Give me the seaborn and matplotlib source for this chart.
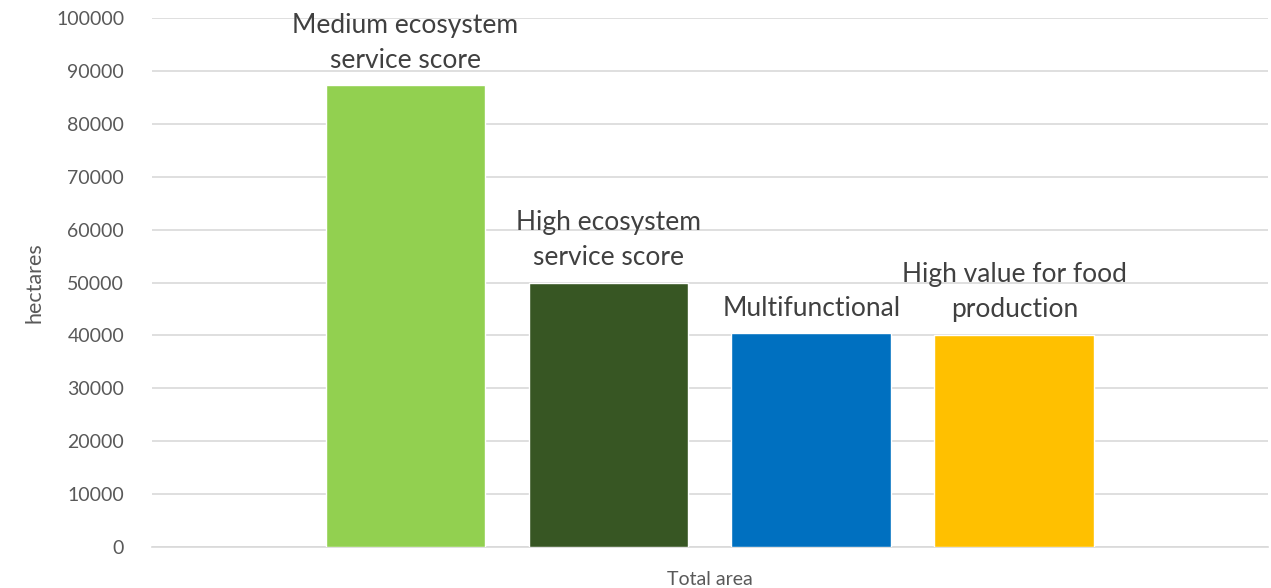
import matplotlib
matplotlib.use("Agg")
import matplotlib.pyplot as plt
import seaborn as sns
import pandas as pd

# Land classes and their total area (hectares)
categories = ["Total area"]
classes = [
    "Medium ecosystem\nservice score",
    "High ecosystem\nservice score",
    "Multifunctional",
    "High value for food\nproduction",
]
hectares = [87300, 50000, 40400, 40100]
colors = ["#92D050", "#375623", "#0070C0", "#FFC000"]
y_ticks = list(range(0, 100001, 10000))

df = pd.DataFrame({
    "group": categories * len(classes),
    "cls": classes,
    "hectares": hectares,
})

sns.set_theme(style="white")
plt.rcParams["font.family"] = ["Lato", "DejaVu Sans"]

fig = plt.figure(figsize=(12.71, 5.88), dpi=100)
ax = fig.add_axes([0.1196, 0.0697, 0.878, 0.8997])

sns.barplot(
    data=df, x="group", y="hectares", hue="cls", hue_order=classes,
    palette=colors, width=0.7276, gap=0.212, saturation=1,
    legend=False, ax=ax, zorder=3,
)

ax.set_ylim(0, 100000)
ax.set_xlim(-0.5, 0.5)
ax.set_yticks(y_ticks)
ax.set_yticklabels([str(t) for t in y_ticks])
ax.yaxis.grid(True, color="#D9D9D9", linewidth=1.2, zorder=0)
ax.set_axisbelow(True)
for side in ["top", "right", "left"]:
    ax.spines[side].set_visible(False)
ax.spines["bottom"].set_color("#D9D9D9")
ax.spines["bottom"].set_linewidth(1.2)

ax.tick_params(axis="y", length=0, pad=20, labelsize=14, labelcolor="#595959")
ax.tick_params(axis="x", length=0, pad=17, labelsize=14, labelcolor="#595959")
ax.set_xlabel("")
ax.set_ylabel("hectares", fontsize=15.5, color="#595959", labelpad=8)

for patch, label in zip(ax.patches, classes):
    cx = patch.get_x() + patch.get_width() / 2
    top = patch.get_height()
    ax.annotate(label, (cx, top), xytext=(0, 9), textcoords="offset points",
                ha="center", va="bottom", multialignment="center",
                fontsize=19, color="#404040", linespacing=1.5)

fig.savefig("out.png", dpi=100)
